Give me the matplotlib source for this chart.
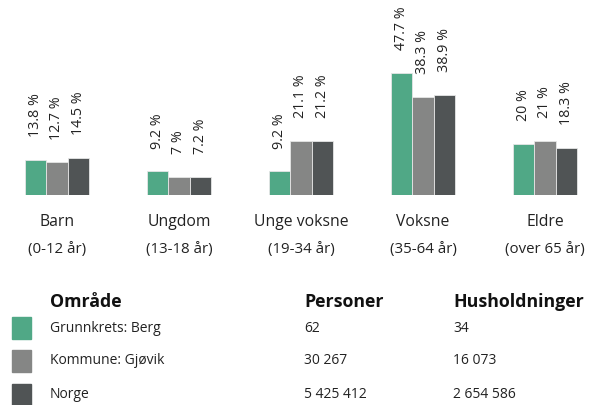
import matplotlib
matplotlib.use("Agg")
import matplotlib.pyplot as plt
from matplotlib.patches import Rectangle
import numpy as np

plt.rcParams['font.family'] = ['Open Sans', 'DejaVu Sans']

categories = ["Barn", "Ungdom", "Unge voksne", "Voksne", "Eldre"]
sublabels = ["(0-12 år)", "(13-18 år)", "(19-34 år)", "(35-64 år)", "(over 65 år)"]
series_names = ["Grunnkrets: Berg", "Kommune: Gjøvik", "Norge"]
berg = [13.8, 9.2, 9.2, 47.7, 20]
gjovik = [12.7, 7, 21.1, 38.3, 21]
norge = [14.5, 7.2, 21.2, 38.9, 18.3]
personer = ["62", "30 267", "5 425 412"]
husholdninger = ["34", "16 073", "2 654 586"]
colors = ["#50a886", "#858685", "#505455"]

W, H = 598, 405
fig = plt.figure(figsize=(W / 100, H / 100), dpi=100)
base_px = 195
ax = fig.add_axes([0, (H - base_px) / H, 1, base_px / H])
ax.set_xlim(-57 / 122, (W - 57) / 122)
ax.set_ylim(0, base_px / 2.56)
ax.axis('off')

x = np.arange(len(categories))
bw = 21.5 / 122
for k, vals in enumerate([berg, gjovik, norge]):
    xs = x + (k - 1) * bw
    ax.bar(xs, vals, width=bw, color=colors[k], edgecolor='#e6e6e6', linewidth=0.6)
    for xi, v in zip(xs, vals):
        ax.annotate(f"{v:g} %", (xi, v), xytext=(0, 16.5), textcoords='offset points',
                    rotation=90, ha='center', va='bottom', fontsize=10.3, color='#222222')

for i, (c, s) in enumerate(zip(categories, sublabels)):
    xp = (57 + 122 * i) / W
    fig.text(xp, 1 - 222 / H, c, ha='center', va='center', fontsize=11.3, color='#222222')
    fig.text(xp, 1 - 249 / H, s, ha='center', va='center', fontsize=10.8, color='#222222')

# legend table
hdr = dict(ha='left', va='center', fontsize=12.8, fontweight='bold', color='#111111')
fig.text(50 / W, 1 - 302 / H, "Område", **hdr)
fig.text(304 / W, 1 - 302 / H, "Personer", **hdr)
fig.text(453 / W, 1 - 302 / H, "Husholdninger", **hdr)
row_y = [328, 361, 395]
for k, name in enumerate(series_names):
    y = row_y[k]
    fig.patches.append(Rectangle((12 / W, 1 - (y + 11) / H), 19 / W, 22 / H,
                                 transform=fig.transFigure, color=colors[k]))
    fig.text(50 / W, 1 - y / H, name, ha='left', va='center', fontsize=10, color='#222222')
    fig.text(304 / W, 1 - y / H, personer[k], ha='left', va='center', fontsize=10, color='#222222')
    fig.text(453 / W, 1 - y / H, husholdninger[k], ha='left', va='center', fontsize=10, color='#222222')

fig.savefig("out.png", dpi=100)
